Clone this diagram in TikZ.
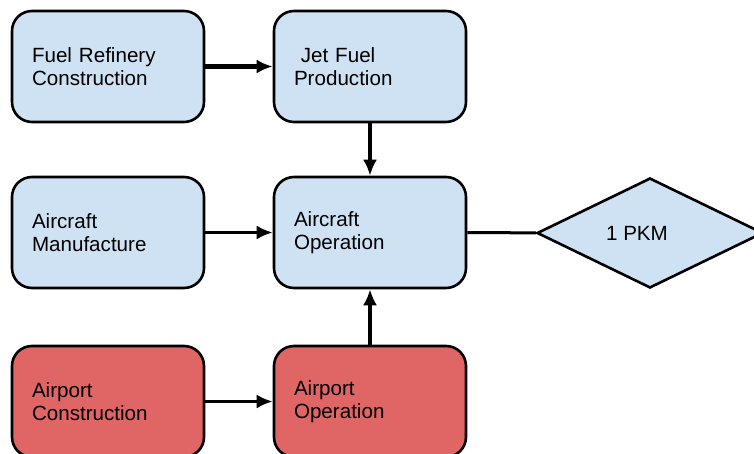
\documentclass[tikz,border=0pt]{standalone}
\usepackage{fontspec}
\setmainfont{Liberation Sans}
\usetikzlibrary{shapes.geometric,arrows.meta}
\definecolor{boxblue}{HTML}{CFE2F3}
\definecolor{boxred}{HTML}{E06666}
\begin{document}
\begin{tikzpicture}[x=1pt, y=-1pt, >={Latex[length=16pt,width=14pt]},
  stage/.style={draw, line width=2.6pt, rounded corners=20pt, fill=boxblue,
    minimum width=192pt, minimum height=111pt, text width=152pt,
    inner xsep=20pt, align=left, font=\fontsize{20.6}{22.5}\selectfont},
  flow/.style={->, line width=3pt}]
\useasboundingbox (0,0) rectangle (754,454);
% blue stages
\node[stage] (refinery) at (108,66.5) {Fuel Refinery\\Construction};
\node[stage] (jetfuel) at (370,66.5) {\ Jet Fuel\\Production};
\node[stage] (manuf) at (108,232.5) {Aircraft\\Manufacture};
\node[stage] (acop) at (370,232.5) {Aircraft\\Operation};
% airport stages
\node[stage, fill=boxred] (apcons) at (108,401.5) {Airport\\Construction};
\node[stage, fill=boxred] (apop) at (370,401.5) {Airport\\Operation};
% functional unit
\node[diamond, draw, line width=2.6pt, fill=boxblue, minimum width=226pt,
  minimum height=110pt, inner sep=0pt,
  label={[xshift=-13pt, font=\fontsize{20.6}{22.5}\selectfont]center:1 PKM}] (pkm) at (650,233) {};
% connectors
\draw[flow, line width=4.5pt] (refinery) -- (jetfuel);
\draw[flow, line width=3.5pt] (jetfuel) -- (acop);
\draw[flow] (manuf) -- (acop);
\draw[flow] (apcons) -- (apop);
\draw[flow, line width=3.5pt] (apop) -- (acop);
\draw[line width=3pt] (acop) -- (pkm);
\end{tikzpicture}
\end{document}
